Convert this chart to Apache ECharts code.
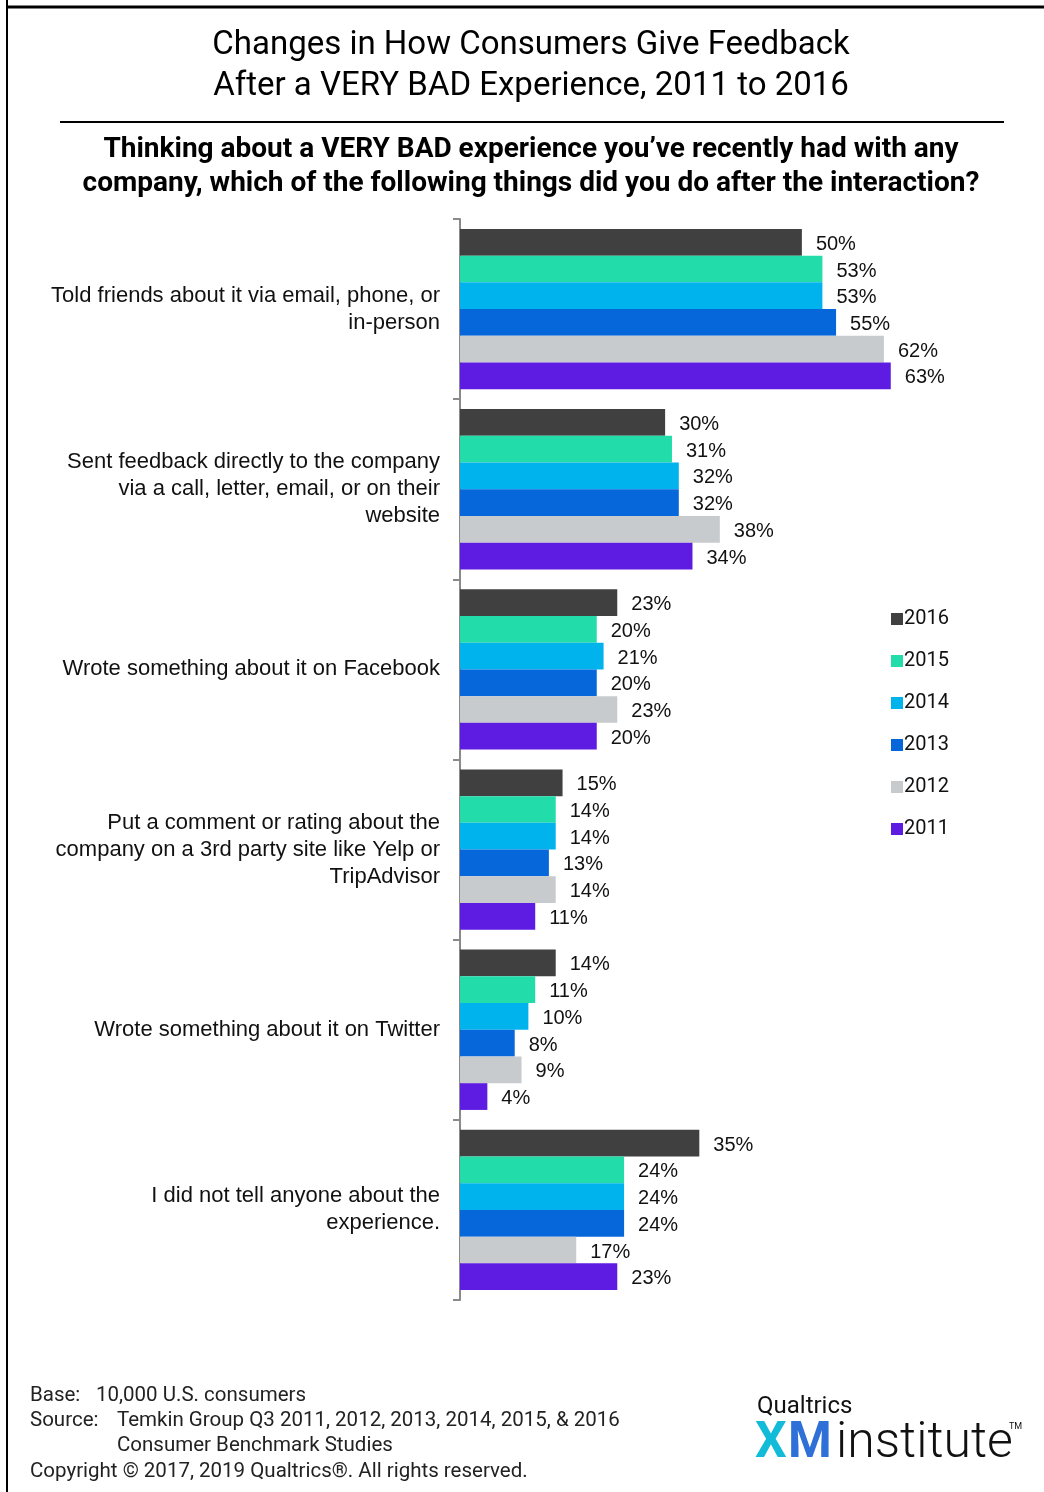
<!DOCTYPE html>
<html>
<head>
<meta charset="utf-8">
<script src="https://cdn.jsdelivr.net/npm/echarts@6/dist/echarts.min.js"></script>
<style>
html,body{margin:0;padding:0;background:#fff;}
#chart{width:1044px;height:1492px;}
</style>
</head>
<body>
<div id="chart"></div>
<script>
const categories = [
  'Told friends about it via email, phone, or\nin-person',
  'Sent feedback directly to the company\nvia a call, letter, email, or on their\nwebsite',
  'Wrote something about it on Facebook',
  'Put a comment or rating about the\ncompany on a 3rd party site like Yelp or\nTripAdvisor',
  'Wrote something about it on Twitter',
  'I did not tell anyone about the\nexperience.'
];
const years = ['2016', '2015', '2014', '2013', '2012', '2011'];
const v2016 = [50, 30, 23, 15, 14, 35];
const v2015 = [53, 31, 20, 14, 11, 24];
const v2014 = [53, 32, 21, 14, 10, 24];
const v2013 = [55, 32, 20, 13, 8, 24];
const v2012 = [62, 38, 23, 14, 9, 17];
const v2011 = [63, 34, 20, 11, 4, 23];
const seriesValues = [v2016, v2015, v2014, v2013, v2012, v2011];
const colors = ['#404040', '#22DCAA', '#00B3EC', '#0667DB', '#C8CBCE', '#5E1BE2'];

const FONT = 'Roboto, "Liberation Sans", sans-serif';
const FONT2 = '"Liberation Sans", Arial, sans-serif';
const chart = echarts.init(document.getElementById('chart'), null, {renderer: 'canvas'});

const series = years.map((y, i) => ({
  name: y,
  type: 'bar',
  data: seriesValues[i],
  barGap: '0%',
  barCategoryGap: '11%',
  itemStyle: {color: colors[i]},
  label: {
    show: true,
    position: 'right',
    distance: 14,
    offset: [0, 2],
    formatter: '{c}%',
    fontFamily: FONT2,
    fontSize: 20,
    color: '#111'
  }
}));

chart.setOption({
  animation: false,
  backgroundColor: '#fff',
  textStyle: {fontFamily: FONT},
  grid: {left: 460, top: 219, width: 547, height: 1081, containLabel: false},
  xAxis: {
    type: 'value', min: 0, max: 80, show: false
  },
  yAxis: {
    type: 'category',
    data: categories,
    inverse: true,
    axisLine: {show: true, lineStyle: {color: '#8a8a8a', width: 2}},
    axisTick: {show: true, length: 7, lineStyle: {color: '#8a8a8a', width: 2}},
    axisLabel: {
      margin: 20, fontSize: 22, lineHeight: 27, color: '#111', fontFamily: FONT2, align: 'right'
    },
    splitLine: {show: false}
  },
  legend: {
    orient: 'vertical',
    left: 886,
    top: 604,
    itemWidth: 12,
    itemHeight: 12,
    itemGap: 22,
    icon: 'rect',
    data: years,
    textStyle: {fontSize: 20, color: '#111', fontFamily: FONT, padding: [0, 0, 0, -4]}
  },
  series: series,
  graphic: [
    {type: 'line', shape: {x1: 7, y1: 0, x2: 7, y2: 1492}, style: {stroke: '#000', lineWidth: 2}},
    {type: 'line', shape: {x1: 7, y1: 7, x2: 1044, y2: 7}, style: {stroke: '#000', lineWidth: 3}},
    {type: 'line', shape: {x1: 60, y1: 122, x2: 1004, y2: 122}, style: {stroke: '#000', lineWidth: 2}},
    {type: 'text', x: 531, y: 25, style: {text: 'Changes in How Consumers Give Feedback\nAfter a VERY BAD Experience, 2011 to 2016', align: 'center', textAlign: 'center', font: '33px ' + FONT, lineHeight: 41, fill: '#000'}},
    {type: 'text', x: 531, y: 133, style: {text: 'Thinking about a VERY BAD experience you\u2019ve recently had with any\ncompany, which of the following things did you do after the interaction?', align: 'center', textAlign: 'center', font: 'bold 28px ' + FONT, lineHeight: 34, fill: '#000'}},
    {type: 'text', left: 30, top: 1385, style: {text: 'Base:', font: '20.5px ' + FONT, fill: '#222'}},
    {type: 'text', left: 96, top: 1385, style: {text: '10,000 U.S. consumers', font: '20.5px ' + FONT, fill: '#222'}},
    {type: 'text', left: 30, top: 1410, style: {text: 'Source:', font: '20.5px ' + FONT, fill: '#222'}},
    {type: 'text', left: 117, top: 1410, style: {text: 'Temkin Group Q3 2011, 2012, 2013, 2014, 2015, & 2016', font: '20.5px ' + FONT, fill: '#222'}},
    {type: 'text', left: 117, top: 1435, style: {text: 'Consumer Benchmark Studies', font: '20.5px ' + FONT, fill: '#222'}},
    {type: 'text', left: 30, top: 1461, style: {text: 'Copyright \u00a9 2017, 2019 Qualtrics\u00ae. All rights reserved.', font: '20.5px ' + FONT, fill: '#222'}},
    {type: 'text', left: 757, top: 1395, style: {text: 'Qualtrics', font: '24px ' + FONT, fill: '#111'}},
    {type: 'text', left: 755, top: 1419, style: {text: 'X', font: 'bold 50px ' + FONT, fill: '#12BCD8'}},
    {type: 'text', left: 788, top: 1419, style: {text: 'M', font: 'bold 50px ' + FONT, fill: '#2F6FD8'}},
    {type: 'text', left: 836, top: 1419, style: {text: 'institute', font: '300 50px ' + FONT, fill: '#111'}},
    {type: 'text', left: 1009, top: 1422, style: {text: 'TM', font: '9px ' + FONT, fill: '#111'}}
  ]
});
</script>
</body>
</html>
